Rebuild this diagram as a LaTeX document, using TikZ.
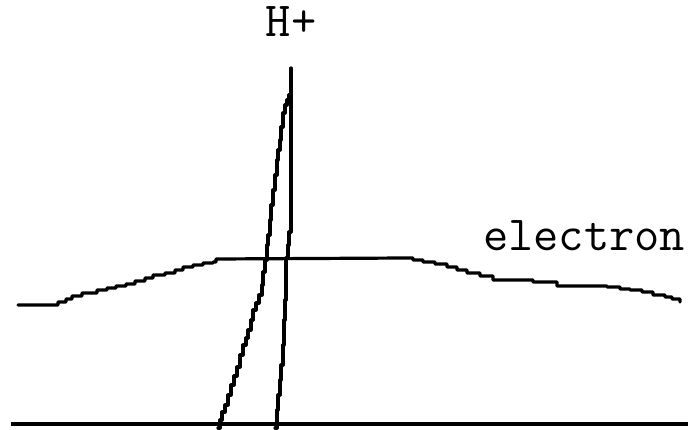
\documentclass[tikz,border=0pt]{standalone}
\begin{document}
\begin{tikzpicture}[x=1pt,y=-1pt,
  curve/.style={line width=3.2pt,line join=round,line cap=round},
  lab/.style={font=\ttfamily\fontsize{49}{54}\selectfont,inner sep=0pt,anchor=base}]
\useasboundingbox (0,0) rectangle (694,429);
% axis
\coordinate (axL) at (11,424);
\coordinate (axR) at (688,424);
\draw[line width=3.4pt] (axL) -- (axR);
% electron curve
\draw[curve] (18,305) -- (50,305) -| (58,302) -| (66,299) -| (72,296) -| (82,293) -| (97,290)
  -| (107,288) -| (116,286) -| (126,284) -| (135,281) -| (145,278) -| (153,275) -| (165,273)
  -| (175,270) -| (183,267) -| (193,265) -| (203,263) -| (213,262) -| (216,259)
  -- (405,258) -| (413,260) -| (423,262) -| (435,264) -| (447,267) -| (457,270) -| (467,273)
  -| (480,276) -| (493,280) -| (533,282) -| (557,286) -| (607,287) -| (620,289) -| (630,290)
  -| (642,292) -| (653,295) -| (665,297) -| (672,299) -| (680,302);
% H+ vertical line
\draw[curve] (291,68) -- (291,222) |- (289,232) |- (288,245) |- (286,258) |- (285,300)
  |- (284,320) |- (283,345) |- (281,365) |- (280,380) |- (278,395) |- (277,410) |- (275,428);
% H+ slanted line
\draw[curve] (291,88) |- (289,95) |- (287,100) |- (285,105) |- (283,113) |- (281,127)
  |- (280,140) |- (278,150) |- (277,160) |- (275,175) |- (273,190) |- (271,205) |- (270,220)
  |- (268,235) |- (267,245) |- (265,260) |- (263,272) |- (262,285) |- (259,295) |- (256,303)
  |- (253,310) |- (251,320) |- (248,330) |- (246,338) |- (243,345) |- (240,355) |- (237,367)
  |- (234,376) |- (231,385) |- (228,395) |- (225,405) |- (222,412) |- (220,420) |- (218,428);
% labels
\node[lab] (hp) at (291,36) {H+};
\node[lab] (el) at (584,250) {electron};
\end{tikzpicture}
\end{document}
